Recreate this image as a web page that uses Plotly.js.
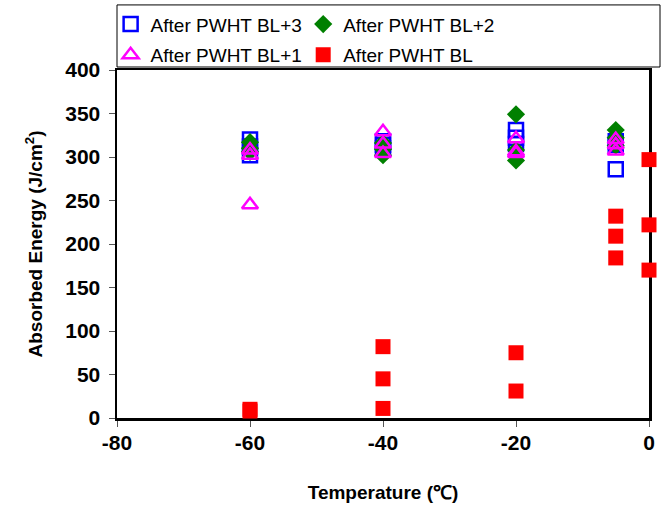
<!DOCTYPE html>
<html>
<head>
<meta charset="utf-8">
<script src="https://cdn.plot.ly/plotly-3.0.1.min.js"></script>
<style>html,body{margin:0;padding:0;background:#fff;}#chart{width:668px;height:510px;}</style>
</head>
<body>
<div id="chart"></div>
<script>
// Series names
const seriesNames = ["After PWHT BL+3", "After PWHT BL+2", "After PWHT BL+1", "After PWHT BL"];

// Temperatures (°C) and absorbed energy (J/cm2) per series
const bl3Temp = [-60, -60, -60, -40, -40, -40, -20, -20, -20, -5, -5, -5];
const bl3Energy = [320, 312, 302, 318, 314, 310, 331, 322, 315, 318, 314, 286];

const bl2Temp = [-60, -60, -60, -40, -40, -40, -20, -20, -20, -5, -5, -5];
const bl2Energy = [317, 310, 306, 316, 309, 302, 349, 308, 296, 331, 322, 313];

const bl1Temp = [-60, -60, -60, -40, -40, -40, -20, -20, -20, -5, -5, -5];
const bl1Energy = [308, 302, 245, 329, 315, 304, 321, 306, 304, 320, 314, 307];

const blTemp = [-60, -60, -40, -40, -40, -20, -20, -5, -5, -5, 0, 0, 0];
const blEnergy = [10, 8, 82, 45, 11, 75, 31, 232, 209, 184, 297, 222, 170];

// Axis ticks
const xTicks = [-80, -60, -40, -20, 0];
const yTicks = [0, 50, 100, 150, 200, 250, 300, 350, 400];

const FONT = "Liberation Sans, Arial, sans-serif";

const traces = [
  {x: bl3Temp, y: bl3Energy, name: seriesNames[0], legend: "legend", legendgroup: "g1",
   mode: "markers", type: "scatter", cliponaxis: false,
   marker: {symbol: "square-open", size: 14, color: "#0000ff", line: {width: 2.5, color: "#0000ff"}}},
  {x: bl2Temp, y: bl2Energy, name: seriesNames[1], legend: "legend2", legendgroup: "g2",
   mode: "markers", type: "scatter", cliponaxis: false,
   marker: {symbol: "diamond", size: 14, color: "#008000", line: {width: 0}}},
  {x: bl1Temp, y: bl1Energy, name: seriesNames[2], legend: "legend", legendgroup: "g3",
   mode: "markers", type: "scatter", cliponaxis: false,
   marker: {symbol: "triangle-up-open", size: 14, color: "#ff00ff", line: {width: 2.5, color: "#ff00ff"}}},
  {x: blTemp, y: blEnergy, name: seriesNames[3], legend: "legend2", legendgroup: "g4",
   mode: "markers", type: "scatter", cliponaxis: false,
   marker: {symbol: "square", size: 15, color: "#ff0000", line: {width: 0}}}
];

const legendCommon = {
  orientation: "v", xanchor: "left", y: 1.186, yanchor: "top",
  font: {family: FONT, size: 19, color: "#000"},
  bgcolor: "rgba(0,0,0,0)", borderwidth: 0,
  itemwidth: 30, traceorder: "grouped", tracegroupgap: 3
};

const layout = {
  width: 668, height: 510,
  margin: {l: 117, r: 19, t: 70, b: 92, pad: 0, autoexpand: false},
  paper_bgcolor: "#ffffff", plot_bgcolor: "#ffffff",
  font: {family: FONT, color: "#000000"},
  showlegend: true,
  legend: Object.assign({}, legendCommon, {x: -0.012}),
  legend2: Object.assign({}, legendCommon, {x: 0.35}),
  xaxis: {
    range: [-80, 0], tickvals: xTicks, ticktext: xTicks.map(String),
    showgrid: false, zeroline: false,
    showline: true, linecolor: "#000", linewidth: 2.5, mirror: true,
    ticks: "outside", ticklen: 6, tickwidth: 1, tickcolor: "#555",
    tickfont: {family: FONT, size: 21, weight: "bold"},
    ticklabelstandoff: -2,
    layer: "below traces",
    title: {text: "Temperature (℃)", font: {family: FONT, size: 19, weight: "bold"}, standoff: 33}
  },
  yaxis: {
    range: [0, 400], tickvals: yTicks, ticktext: yTicks.map(String),
    showgrid: false, zeroline: false,
    showline: true, linecolor: "#000", linewidth: 2.5, mirror: true,
    ticks: "outside", ticklen: 6, tickwidth: 1, tickcolor: "#555",
    tickfont: {family: FONT, size: 21, weight: "bold"},
    ticklabelstandoff: 4,
    layer: "below traces",
    title: {text: "Absorbed Energy (J/cm<sup>2</sup>)", font: {family: FONT, size: 19, weight: "bold"}, standoff: 18}
  },
  shapes: [
    {type: "rect", xref: "paper", yref: "paper", x0: 0, x1: 1.0207, y0: 1.0086, y1: 1.187,
     line: {color: "#000", width: 1}, fillcolor: "rgba(0,0,0,0)", layer: "below"}
  ]
};

Plotly.newPlot("chart", traces, layout, {displayModeBar: false, staticPlot: true});
</script>
</body>
</html>
